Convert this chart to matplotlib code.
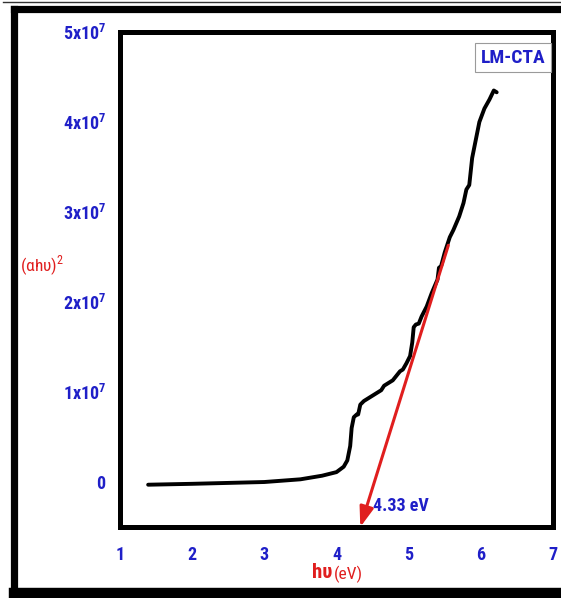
import matplotlib
matplotlib.use("Agg")
import matplotlib.pyplot as plt
from matplotlib.lines import Line2D
from matplotlib.ticker import FixedLocator, FuncFormatter

plt.rcParams["font.family"] = ["Roboto Condensed", "Liberation Sans", "DejaVu Sans"]
plt.rcParams["mathtext.fontset"] = "custom"
plt.rcParams["mathtext.rm"] = "Roboto Condensed"
plt.rcParams["mathtext.bf"] = "Roboto Condensed:bold"

BLUE = "#1f1fc8"
RED = "#e01e1e"

# photon energy (eV) and (alpha h nu)^2 in units of 1e7
photon_energy = [
    1.39, 2.0, 2.5, 3.0, 3.5, 3.8, 4.0, 4.1, 4.15, 4.19, 4.21, 4.24, 4.28,
    4.30, 4.33, 4.38, 4.50, 4.62, 4.66, 4.72, 4.78, 4.83, 4.88, 4.92, 4.97,
    5.02, 5.05, 5.07, 5.10, 5.14, 5.18, 5.25, 5.32, 5.40, 5.42, 5.45, 5.50,
    5.57, 5.62, 5.70, 5.76, 5.80, 5.84, 5.88, 5.93, 5.98, 6.05, 6.12, 6.18,
    6.22,
]
absorption_sq = [
    -0.03, -0.02, -0.01, 0.0, 0.03, 0.07, 0.11, 0.17, 0.24, 0.40, 0.60,
    0.72, 0.75, 0.75, 0.86, 0.90, 0.96, 1.02, 1.07, 1.10, 1.13, 1.18, 1.23,
    1.25, 1.32, 1.40, 1.55, 1.72, 1.75, 1.76, 1.84, 1.95, 2.10, 2.25, 2.38,
    2.40, 2.55, 2.72, 2.80, 2.95, 3.10, 3.25, 3.30, 3.60, 3.80, 4.00, 4.15,
    4.25, 4.35, 4.33,
]

# tangent line: start on the curve, end at the band gap on the bottom axis
fit_start = (5.55, 2.63)
band_gap = 4.33

x_ticks = [1, 2, 3, 4, 5, 6, 7]
y_ticks = [0, 1, 2, 3, 4, 5]

fig = plt.figure(figsize=(5.61, 5.98), dpi=100)
ax = fig.add_axes([0.2139, 0.1187, 0.7718, 0.8278])

ax.plot(
    photon_energy,
    absorption_sq,
    color="black",
    linewidth=2.8,
    solid_capstyle="round",
    solid_joinstyle="round",
)

ax.annotate(
    "",
    xy=(band_gap, -0.5),
    xytext=fit_start,
    arrowprops=dict(
        arrowstyle="-|>,head_length=1.2,head_width=0.42",
        color=RED,
        linewidth=2.2,
        shrinkA=0,
        shrinkB=0,
    ),
    annotation_clip=False,
    zorder=5,
)

ax.text(
    4.50,
    -0.27,
    f"{band_gap:.2f} eV",
    color=BLUE,
    fontsize=13,
    fontweight="bold",
    ha="left",
    va="center",
)

ax.text(
    0.982,
    0.966,
    "LM-CTA",
    transform=ax.transAxes,
    color=BLUE,
    fontsize=14,
    fontweight="bold",
    ha="right",
    va="top",
    bbox=dict(facecolor="white", edgecolor="#9a9a9a", linewidth=0.8, pad=4),
)

ax.set_xlim(1, 7)
ax.set_ylim(-0.5, 5)
ax.xaxis.set_major_locator(FixedLocator(x_ticks))
ax.yaxis.set_major_locator(FixedLocator(y_ticks))


def y_label_text(value, pos):
    if value == 0:
        return r"$\mathbf{0}$"
    return r"$\mathbf{%dx10^{7}}$" % value


ax.yaxis.set_major_formatter(FuncFormatter(y_label_text))
ax.tick_params(axis="both", length=0, colors=BLUE, labelsize=13)
ax.tick_params(axis="x", pad=14)
ax.tick_params(axis="y", pad=10)
for label in ax.get_xticklabels():
    label.set_fontweight("bold")

for spine in ax.spines.values():
    spine.set_linewidth(3.6)

fig.text(
    0.036,
    1 - 266 / 598,
    r"(αhυ)$^{2}$",
    color=RED,
    fontsize=12.5,
    ha="left",
    va="center",
)

fig.text(0.592, 1 - 572 / 598, "hυ", color=RED, fontsize=15, fontweight="bold",
         ha="right", va="center")
fig.text(0.596, 1 - 574 / 598, "(eV)", color=RED, fontsize=12.5,
         ha="left", va="center")

# outer picture frame
frame_left = 13.5 / 561
frame_top = 1 - 8.5 / 598
frame_bottom = 1 - 593 / 598
fig.add_artist(Line2D([frame_left, frame_left], [frame_bottom, frame_top],
                      color="black", linewidth=5.2, transform=fig.transFigure))
fig.add_artist(Line2D([frame_left, 1.0], [frame_top, frame_top],
                      color="black", linewidth=5.2, transform=fig.transFigure))
fig.add_artist(Line2D([frame_left, 1.0], [frame_bottom, frame_bottom],
                      color="black", linewidth=7.5, transform=fig.transFigure))
fig.add_artist(Line2D([0.005, 1.0], [1 - 1.5 / 598, 1 - 1.5 / 598],
                      color="#333333", linewidth=1.0, transform=fig.transFigure))

fig.savefig("out.png", dpi=100)
